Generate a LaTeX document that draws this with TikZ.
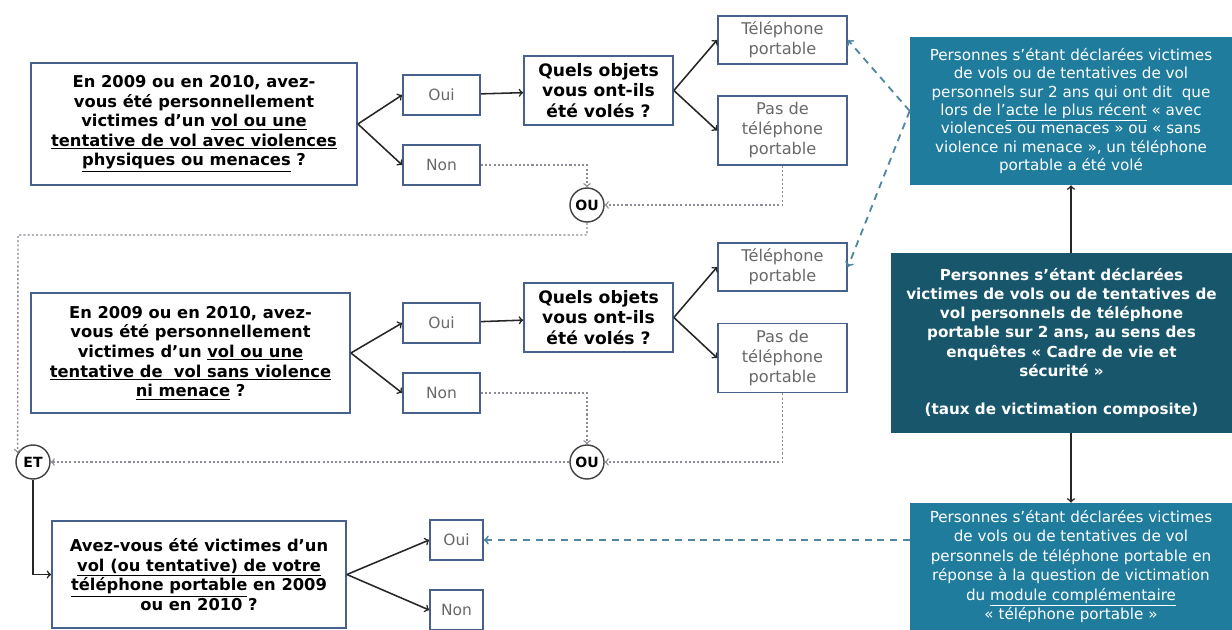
\documentclass[tikz,border=0pt]{standalone}
\usepackage{fontspec}
\setmainfont{DejaVu Sans}
\usepackage{tikz}
\usetikzlibrary{shapes,arrows,backgrounds}
\definecolor{bordure}{RGB}{72,96,140}
\definecolor{gristexte}{RGB}{105,105,105}
\definecolor{bleuclair}{RGB}{31,124,157}
\definecolor{bleufonce}{RGB}{24,86,108}
\definecolor{renvoi}{RGB}{80,135,160}
\definecolor{pointgris}{RGB}{140,140,150}

\begin{document}
\begin{tikzpicture}[x=0.025cm,y=-0.025cm,
  question/.style={draw=bordure,line width=1.2pt,fill=white,align=center,inner sep=0pt,
    font=\bfseries\fontsize{11.6}{13.9}\selectfont},
  objets/.style={question,minimum width=3.725cm,minimum height=1.725cm,
    font=\bfseries\fontsize{12.2}{14.5}\selectfont},
  reponse/.style={draw=bordure,line width=1.2pt,fill=white,align=center,inner sep=0pt,text=gristexte,
    minimum width=1.925cm,minimum height=1cm,font=\fontsize{11}{15}\selectfont},
  choix/.style={reponse,minimum width=3.225cm,font=\fontsize{11.5}{14.2}\selectfont},
  cercle/.style={circle,draw=black!75,line width=1pt,minimum size=0.85cm,inner sep=0pt,
    font=\bfseries\fontsize{10}{12}\selectfont},
  bloc/.style={fill=bleuclair,text=white,align=center,inner sep=0pt,
    minimum width=8.05cm,font=\fontsize{10.8}{13.1}\selectfont},
  fleche/.style={->,line width=1.1pt,black!85},
  pointille/.style={->,pointgris,line width=1pt,dash pattern=on 1.5pt off 1.5pt},
  tirets/.style={->,renvoi,line width=1.3pt,dash pattern=on 5pt off 4pt}]
\fill[white] (0,0) rectangle (1232,630);
\useasboundingbox (0,0) rectangle (1232,630);

\node[question,minimum width=8.15cm,minimum height=3.05cm] (q1) at (194,124)
  {En 2009 ou en 2010, avez-\\vous été personnellement\\victimes d’un \underline{vol ou une}\\\underline{tentative de vol avec violences}\\\underline{physiques ou menaces} ?};
\node[reponse] (oui1) at (441.5,95) {Oui};
\node[reponse] (non1) at (441.5,165) {Non};
\node[objets] (quels1) at (598.5,90.5) {Quels objets\\vous ont-ils\\été volés ?};
\node[choix,minimum height=1.2cm] (tel1) at (782.5,40) {Téléphone\\portable};
\node[choix,minimum height=1.725cm] (pas1) at (782.5,130.5) {Pas de\\téléphone\\portable};
\node[cercle] (ou1) at (587,205) {OU};

\node[question,minimum width=7.975cm,minimum height=3cm] (q2) at (190.5,353)
  {En 2009 ou en 2010, avez-\\vous été personnellement\\victimes d’un \underline{vol ou une}\\\underline{tentative de\ \ vol sans violence}\\\underline{ni menace} ?};
\node[reponse] (oui2) at (441.5,323) {Oui};
\node[reponse] (non2) at (441.5,393) {Non};
\node[objets] (quels2) at (598.5,317.5) {Quels objets\\vous ont-ils\\été volés ?};
\node[choix,minimum height=1.2cm] (tel2) at (782.5,267) {Téléphone\\portable};
\node[choix,minimum height=1.725cm] (pas2) at (782.5,358) {Pas de\\téléphone\\portable};
\node[cercle] (ou2) at (587,462) {OU};
\node[cercle] (et) at (33,462) {ET};

\node[question,minimum width=7.35cm,minimum height=2.675cm] (q3) at (199,574.5)
  {Avez-vous été victimes d’un\\\underline{vol (ou tentative) de votre}\\\underline{téléphone portable} en 2009\\ou en 2010 ?};
\node[reponse,minimum width=1.325cm] (oui3) at (456.5,540) {Oui};
\node[reponse,minimum width=1.325cm] (non3) at (456.5,610) {Non};

\node[bloc,minimum height=3.7cm] (haut) at (1071,111)
  {Personnes s’étant déclarées victimes\\de vols ou de tentatives de vol\\personnels sur 2 ans qui ont dit\ \ que\\lors de l’\underline{acte le plus récent} « avec\\violences ou menaces » ou « sans\\violence ni menace », un téléphone\\portable a été volé};
\node[bloc,fill=bleufonce,minimum width=8.525cm,minimum height=4.5cm,font=\bfseries\fontsize{10.8}{13.6}\selectfont] (milieu) at (1061.5,343)
  {Personnes s’étant déclarées\\victimes de vols ou de tentatives de\\vol personnels de téléphone\\portable sur 2 ans, au sens des\\enquêtes « Cadre de vie et\\sécurité »\\[13.6pt](taux de victimation composite)};
\node[bloc,minimum height=3.175cm,font=\fontsize{10.8}{13.8}\selectfont] (bas) at (1071,566.5)
  {Personnes s’étant déclarées victimes\\de vols ou de tentatives de vol\\personnels de téléphone portable en\\réponse à la question de victimation\\du \underline{module complémentaire}\\« téléphone portable »};

\draw[fleche] (q1.east) -- (oui1.west);
\draw[fleche] (q1.east) -- (non1.west);
\draw[fleche] (oui1) -- (quels1);
\draw[fleche] (quels1.east) -- (tel1.west);
\draw[fleche] (quels1.east) -- (pas1.west);
\draw[pointille] (non1.east) -| (ou1.north);
\draw[pointille] (pas1.south) |- (ou1.east);
\coordinate (coude) at (18,235);
\draw[pointille] (ou1.south) |- (coude) -- (et.150);

\draw[fleche] (q2.east) -- (oui2.west);
\draw[fleche] (q2.east) -- (non2.west);
\draw[fleche] (oui2) -- (quels2);
\draw[fleche] (quels2.east) -- (tel2.west);
\draw[fleche] (quels2.east) -- (pas2.west);
\draw[pointille] (non2.east) -| (ou2.north);
\draw[pointille] (pas2.south) |- (ou2.east);
\draw[pointille] (ou2.west) -- (et.east);

\draw[fleche] (et.south) |- (q3.west);
\draw[fleche] (q3.east) -- (oui3.west);
\draw[fleche] (q3.east) -- (non3.west);

\draw[fleche] (milieu.north -| haut.south) -- (haut.south);
\draw[fleche] (milieu.south -| bas.north) -- (bas.north);
\draw[tirets] (haut.west) -- (tel1.east);
\draw[tirets] (haut.west) -- (tel2.east);
\draw[tirets] (oui3.east -| bas.west) -- (oui3.east);
\end{tikzpicture}
\end{document}
